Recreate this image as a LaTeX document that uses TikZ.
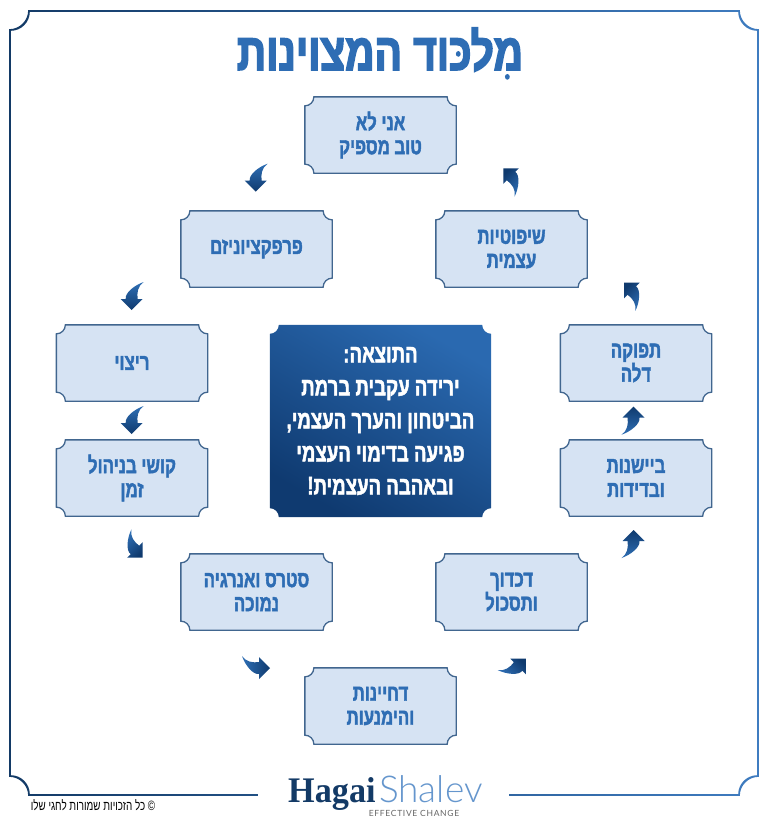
\documentclass[tikz,border=0pt]{standalone}
\usepackage{fontspec}
\usetikzlibrary{shadings}
\TeXXeTstate=1
\newfontfamily\heb[Script=Hebrew,FakeStretch=0.73,BoldFeatures={FakeBold=1.8}]{Liberation Sans}
\newfontfamily\hebtitle[Script=Hebrew,FakeStretch=0.78,BoldFeatures={FakeBold=3}]{Liberation Sans}
\newfontfamily\logoserif[FakeStretch=0.95]{Liberation Serif}
\newfontfamily\logothin{Lato Light}
\newfontfamily\logotag[LetterSpace=8]{Lato}
\newcommand{\hl}[1]{\beginR #1\endR}
\definecolor{inkblue}{HTML}{2E6DB4}
\definecolor{boxfill}{HTML}{D6E3F3}
\definecolor{boxline}{HTML}{41668F}
\definecolor{navy}{HTML}{133A66}
\definecolor{midblue}{HTML}{3F7CC0}
\definecolor{resultlight}{HTML}{2A69B0}
\definecolor{resultdark}{HTML}{0F3A70}
\definecolor{arrowlight}{HTML}{2F6FB5}
\definecolor{arrowdark}{HTML}{0F3A6E}
\newdimen\tkL\newdimen\tkR\newdimen\tkB\newdimen\tkT
\makeatletter
\pgfdeclareshape{ticket}{
  \inheritsavedanchors[from=rectangle]
  \inheritanchorborder[from=rectangle]
  \inheritanchor[from=rectangle]{center}
  \inheritanchor[from=rectangle]{north}
  \inheritanchor[from=rectangle]{south}
  \inheritanchor[from=rectangle]{east}
  \inheritanchor[from=rectangle]{west}
  \inheritanchor[from=rectangle]{north west}
  \inheritanchor[from=rectangle]{north east}
  \inheritanchor[from=rectangle]{south west}
  \inheritanchor[from=rectangle]{south east}
  \backgroundpath{
    \southwest\tkL=\pgf@x\tkB=\pgf@y
    \northeast\tkR=\pgf@x\tkT=\pgf@y
    \def\tkr{9pt}\def\tkk{5pt}
    \pgfpathmoveto{\pgfqpoint{\tkL}{\dimexpr\tkB+\tkr\relax}}
    \pgfpathlineto{\pgfqpoint{\tkL}{\dimexpr\tkT-\tkr\relax}}
    \pgfpathcurveto{\pgfqpoint{\dimexpr\tkL+\tkk\relax}{\dimexpr\tkT-\tkr\relax}}{\pgfqpoint{\dimexpr\tkL+\tkr\relax}{\dimexpr\tkT-\tkk\relax}}{\pgfqpoint{\dimexpr\tkL+\tkr\relax}{\tkT}}
    \pgfpathlineto{\pgfqpoint{\dimexpr\tkR-\tkr\relax}{\tkT}}
    \pgfpathcurveto{\pgfqpoint{\dimexpr\tkR-\tkr\relax}{\dimexpr\tkT-\tkk\relax}}{\pgfqpoint{\dimexpr\tkR-\tkk\relax}{\dimexpr\tkT-\tkr\relax}}{\pgfqpoint{\tkR}{\dimexpr\tkT-\tkr\relax}}
    \pgfpathlineto{\pgfqpoint{\tkR}{\dimexpr\tkB+\tkr\relax}}
    \pgfpathcurveto{\pgfqpoint{\dimexpr\tkR-\tkk\relax}{\dimexpr\tkB+\tkr\relax}}{\pgfqpoint{\dimexpr\tkR-\tkr\relax}{\dimexpr\tkB+\tkk\relax}}{\pgfqpoint{\dimexpr\tkR-\tkr\relax}{\tkB}}
    \pgfpathlineto{\pgfqpoint{\dimexpr\tkL+\tkr\relax}{\tkB}}
    \pgfpathcurveto{\pgfqpoint{\dimexpr\tkL+\tkr\relax}{\dimexpr\tkB+\tkk\relax}}{\pgfqpoint{\dimexpr\tkL+\tkk\relax}{\dimexpr\tkB+\tkr\relax}}{\pgfqpoint{\tkL}{\dimexpr\tkB+\tkr\relax}}
    \pgfpathclose
  }
}
\makeatother
% frame outline: x0,y0,x1,y1,r
\newcommand{\framering}[5]{%
  (#1,#2+#5) .. controls (#1+.55*#5,#2+#5) and (#1+#5,#2+.55*#5) .. (#1+#5,#2)
  -- (#3-#5,#2) .. controls (#3-#5,#2+.55*#5) and (#3-.55*#5,#2+#5) .. (#3,#2+#5)
  -- (#3,#4-#5) .. controls (#3-.55*#5,#4-#5) and (#3-#5,#4-.55*#5) .. (#3-#5,#4)
  -- (#1+#5,#4) .. controls (#1+#5,#4-.55*#5) and (#1+.55*#5,#4-#5) .. (#1,#4-#5) -- cycle}
\tikzset{
  x=1pt,y=-1pt,
  stepbox/.style={shape=ticket,draw=boxline,line width=1.3pt,fill=boxfill,minimum width=150pt,minimum height=75pt,
    inner sep=0pt,text=inkblue,align=center,font=\heb\bfseries\fontsize{23}{24}\selectfont},
  resultbox/.style={shape=ticket,minimum width=221pt,minimum height=192pt,inner sep=0pt,text=white,align=center,
    font=\heb\bfseries\fontsize{25.5}{33}\selectfont,
    shading=axis,bottom color=resultdark,top color=resultlight,shading angle=-30},
  curlyarrow/.pic={
    \path[shading=axis,top color=arrowlight,bottom color=arrowdark,shading angle=#1,rotate=#1]
      (12,-14) .. controls (3,-11) and (-7,-3) .. (-6,3) -- (-11,3) -- (0,14) -- (11,3) -- (6,3)
      .. controls (5,-3) and (6,-10) .. (12,-14) -- cycle;
  }
}
\begin{document}
\begin{tikzpicture}
\useasboundingbox (0,0) rectangle (768,827);
\fill[white] (0,0) rectangle (768,827);
% outer frame
\path[even odd rule,left color=navy,right color=midblue]
  \framering{9.2}{10.2}{758.8}{795.8}{19} \framering{10.8}{11.8}{757.2}{794.2}{19};
\fill[white] (258,785) rectangle (509,800);
% title
\node[text=inkblue,font=\hebtitle\bfseries\fontsize{52}{52}\selectfont,anchor=base] (title) at (380,70) {\hl{מִלכּוד המצוינות}};
% boxes
\node[stepbox] (top) at (380.5,135) {\hl{אני לא}\\\hl{טוב מספיק}};
\node[stepbox] (perf) at (256.5,249) {\hl{פרפקציוניזם}};
\node[stepbox] (ritzui) at (132,363) {\hl{ריצוי}};
\node[stepbox] (koshi) at (132,478) {\hl{קושי בניהול}\\\hl{זמן}};
\node[stepbox] (stress) at (256.5,592) {\hl{סטרס ואנרגיה}\\\hl{נמוכה}};
\node[stepbox] (delay) at (380.5,706) {\hl{דחיינות}\\\hl{והימנעות}};
\node[stepbox] (dikaon) at (511.5,592) {\hl{דכדוך}\\\hl{ותסכול}};
\node[stepbox] (shy) at (636,478) {\hl{ביישנות}\\\hl{ובדידות}};
\node[stepbox] (output) at (636,363) {\hl{תפוקה}\\\hl{דלה}};
\node[stepbox] (judge) at (511.5,249) {\hl{שיפוטיות}\\\hl{עצמית}};
\node[resultbox] (result) at (380.5,421) {\hl{התוצאה:}\\\hl{ירידה עקבית ברמת}\\\hl{הביטחון והערך העצמי,}\\\hl{פגיעה בדימוי העצמי}\\\hl{ובאהבה העצמית!}};
% arrows
\pic at (255.7,177.7) {curlyarrow=0};
\pic at (131.7,296) {curlyarrow=0};
\pic at (131.7,420) {curlyarrow=0};
\pic at (132.8,547.8) {curlyarrow=45};
\pic at (256,668) {curlyarrow=90};
\pic at (516,668.6) {curlyarrow=135};
\pic at (633.5,544) {curlyarrow=180};
\pic at (633.5,420.7) {curlyarrow=180};
\pic at (633.9,292.6) {curlyarrow=225};
\pic at (513.2,178.2) {curlyarrow=225};
% logo
\node[anchor=base west,inner sep=0pt,text=navy,font=\logoserif\bfseries\fontsize{36}{36}\selectfont] (hagai) at (288,802) {Hagai};
\node[anchor=base west,inner sep=0pt,text=midblue!80,font=\logothin\fontsize{37}{37}\selectfont] (shalev) at (379,802) {Shalev};
\node[anchor=base,inner sep=0pt,text=black!60,font=\logotag\fontsize{8.5}{9}\selectfont] (tag) at (414,816) {EFFECTIVE CHANGE};
\node[anchor=base,inner sep=0pt,text=black,font=\heb\fontsize{13.5}{12}\selectfont] (copy) at (93,810) {\hl{© כל הזכויות שמורות לחגי שלו}};
\end{tikzpicture}
\end{document}
